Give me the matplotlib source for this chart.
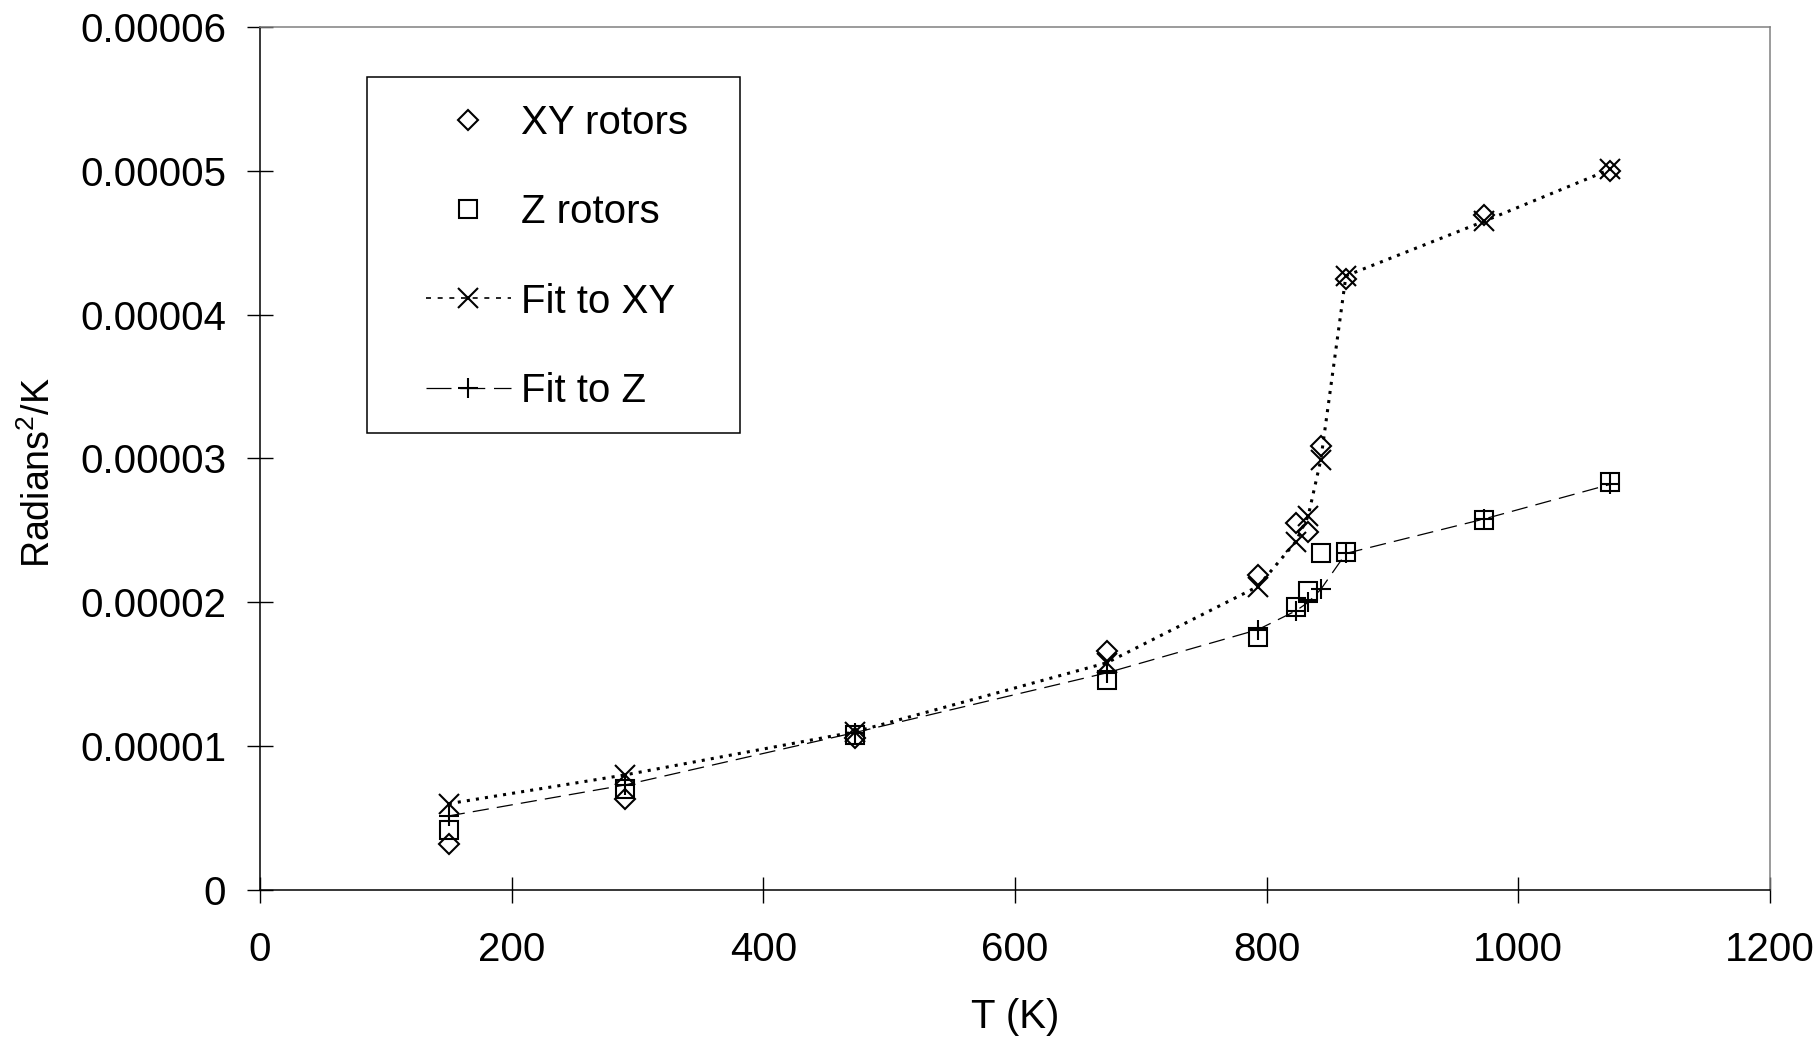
import matplotlib
matplotlib.use("Agg")
import matplotlib.pyplot as plt
from matplotlib.ticker import FuncFormatter, MultipleLocator
from matplotlib.lines import Line2D
from matplotlib.patches import Rectangle

plt.rcParams['font.family'] = ['Liberation Sans', 'DejaVu Sans']
plt.rcParams['mathtext.default'] = 'regular'

# temperatures (K)
temps = [150, 290, 473, 673, 793, 823, 833, 843, 863, 973, 1073]
# measured values, radians^2/K
xy_rotors = [3.2e-6, 6.3e-6, 1.06e-5, 1.66e-5, 2.19e-5, 2.55e-5, 2.49e-5, 3.09e-5, 4.25e-5, 4.69e-5, 5.00e-5]
z_rotors = [4.2e-6, 7.0e-6, 1.08e-5, 1.46e-5, 1.76e-5, 1.97e-5, 2.08e-5, 2.34e-5, 2.35e-5, 2.57e-5, 2.84e-5]
# fits
fit_xy = [6.0e-6, 8.0e-6, 1.10e-5, 1.58e-5, 2.11e-5, 2.42e-5, 2.60e-5, 2.99e-5, 4.27e-5, 4.65e-5, 5.01e-5]
fit_z = [5.15e-6, 7.3e-6, 1.095e-5, 1.51e-5, 1.81e-5, 1.94e-5, 2.00e-5, 2.09e-5, 2.34e-5, 2.58e-5, 2.82e-5]

FS = 29
W, H = 1816, 1044

fig = plt.figure(figsize=(W / 100, H / 100), dpi=100)
ax = fig.add_axes([260 / W, 1 - 890 / H, (1770 - 260) / W, (890 - 27) / H])

mew = 1.5
ax.plot(temps, fit_xy, color='black', lw=2.2, linestyle=(0, (1, 2)), zorder=2)
ax.plot(temps, fit_z, color='black', lw=0.9, linestyle=(0, (13, 6.5)), zorder=2)
ax.plot(temps, xy_rotors, linestyle='none', marker='D', ms=10, mfc='none', mec='black', mew=mew, zorder=3)
ax.plot(temps, z_rotors, linestyle='none', marker='s', ms=13, mfc='none', mec='black', mew=mew, zorder=3)
ax.plot(temps, fit_xy, linestyle='none', marker='x', ms=14, mec='black', mew=mew, zorder=3)
ax.plot(temps, fit_z, linestyle='none', marker='+', ms=14, mec='black', mew=mew, zorder=3)

ax.set_xlim(0, 1200)
ax.set_ylim(0, 0.00006)
ax.xaxis.set_major_locator(MultipleLocator(200))
ax.yaxis.set_major_locator(MultipleLocator(0.00001))
ax.yaxis.set_major_formatter(FuncFormatter(lambda v, p: '0' if abs(v) < 1e-12 else '%.5f' % v))

for s in ['left', 'bottom']:
    ax.spines[s].set_color('black')
    ax.spines[s].set_linewidth(1.1)
for s in ['top', 'right']:
    ax.spines[s].set_color('#808080')
    ax.spines[s].set_linewidth(1.1)

ax.tick_params(axis='both', direction='inout', length=18.7, width=1.0, labelsize=FS)
ax.tick_params(axis='y', pad=15)
ax.tick_params(axis='x', pad=20)

ax.set_xlabel('T (K)', fontsize=FS)
ax.set_ylabel('Radians$^{2}$/K', fontsize=27)
ax.xaxis.set_label_coords(0.5, -0.125)
ax.yaxis.set_label_coords(-0.134, 0.484)

# legend
handles = [
    Line2D([], [], linestyle='none', marker='D', ms=10, mfc='none', mec='black', mew=mew),
    Line2D([], [], linestyle='none', marker='s', ms=13, mfc='none', mec='black', mew=mew),
    Line2D([], [], color='black', lw=1.2, linestyle=(0, (3, 4)), marker='x', ms=14, mew=mew),
    Line2D([], [], color='black', lw=0.9, linestyle=(0, (20, 7)), marker='+', ms=14, mew=mew),
]
labels = ['XY rotors', 'Z rotors', 'Fit to XY', 'Fit to Z']
fig.legend(handles, labels, loc='center left', bbox_to_anchor=(426 / W, 1 - 257 / H),
           frameon=False, fontsize=FS, borderpad=0, borderaxespad=0,
           handlelength=2.1, handletextpad=0.25, labelspacing=1.27, numpoints=1)
fig.patches.append(Rectangle((367 / W, 1 - 433 / H), (740 - 367) / W, (433 - 77) / H,
                             transform=fig.transFigure, fill=False, edgecolor='black', lw=1.1))

plt.savefig('out.png', dpi=100)
